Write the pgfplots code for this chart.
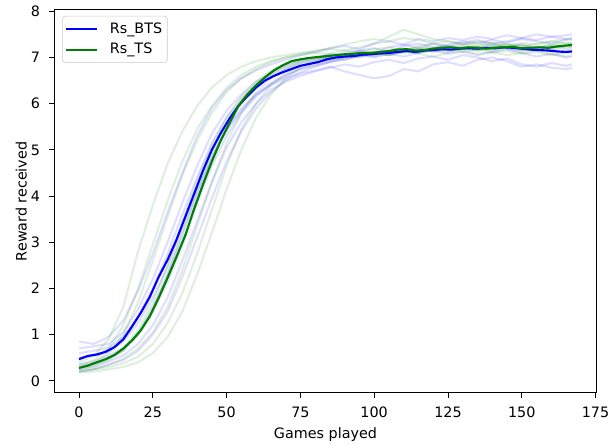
\documentclass[border=0pt]{standalone}
\usepackage{fontspec}
\setmainfont{DejaVu Sans}
\usepackage{pgfplots}
\usepackage{pgfplotstable}
\pgfplotsset{compat=1.18}
\definecolor{mblue}{rgb}{0,0,1}
\definecolor{mgreen}{rgb}{0,0.5,0}
\pgfplotstableread{
x b g
0 0.47 0.28
3 0.54 0.33
6 0.57 0.40
9 0.63 0.47
12 0.73 0.56
15 0.90 0.70
18 1.18 0.88
21 1.48 1.10
24 1.82 1.40
27 2.25 1.80
30 2.62 2.23
33 3.05 2.68
36 3.55 3.15
39 4.05 3.72
42 4.55 4.25
45 5.00 4.75
48 5.36 5.20
51 5.68 5.58
54 5.95 5.95
57 6.16 6.20
60 6.35 6.40
63 6.50 6.57
66 6.60 6.72
69 6.68 6.83
72 6.75 6.92
75 6.82 6.96
78 6.86 6.99
81 6.90 7.01
84 6.96 7.03
87 7.00 7.05
90 7.02 7.07
93 7.03 7.08
96 7.06 7.10
99 7.07 7.10
102 7.09 7.12
105 7.10 7.14
108 7.12 7.17
111 7.14 7.18
114 7.12 7.15
117 7.15 7.16
120 7.16 7.19
123 7.18 7.21
126 7.17 7.22
129 7.19 7.20
132 7.20 7.22
135 7.19 7.21
138 7.21 7.19
141 7.20 7.21
144 7.22 7.22
147 7.21 7.23
150 7.19 7.20
153 7.17 7.21
156 7.16 7.22
159 7.15 7.21
162 7.13 7.24
165 7.12 7.26
167 7.13 7.27
}\means
\pgfplotstableread{
x b1 b2 b3 b4 b5 b6 b7 b8
0 0.85 0.70 0.50 0.35 0.25 0.60 0.30 0.20
5 0.80 0.75 0.55 0.42 0.30 0.65 0.38 0.25
10 0.95 0.80 0.62 0.55 0.42 0.72 0.48 0.35
15 1.30 1.05 0.85 0.70 0.55 0.95 0.65 0.45
20 1.95 1.55 1.25 1.00 0.80 1.40 1.02 0.65
25 2.75 2.20 1.80 1.50 1.20 2.00 1.60 1.00
30 3.65 3.00 2.45 2.15 1.80 2.75 2.30 1.50
35 4.50 3.85 3.30 2.95 2.60 3.60 3.15 2.25
40 5.30 4.65 4.10 3.85 3.45 4.40 4.00 3.10
45 5.90 5.35 4.85 4.65 4.30 5.15 4.80 3.95
50 6.30 5.85 5.45 5.30 5.05 5.70 5.42 4.75
55 6.55 6.20 5.90 5.80 5.60 6.10 5.85 5.40
60 6.72 6.48 6.20 6.15 6.00 6.40 6.20 5.90
65 6.85 6.65 6.40 6.42 6.30 6.60 6.45 6.25
70 6.95 6.80 6.55 6.60 6.48 6.75 6.62 6.50
75 7.05 6.92 6.65 6.75 6.60 6.88 6.75 6.68
80 7.12 7.00 6.72 6.85 6.70 6.95 6.82 6.80
85 7.20 7.08 6.80 6.92 6.78 7.02 6.90 6.90
90 7.25 7.05 6.70 7.00 6.85 7.10 6.98 6.95
95 7.18 7.15 6.62 7.08 6.80 7.15 7.05 7.02
100 7.30 7.20 6.55 7.02 6.90 7.10 7.00 7.10
105 7.35 7.12 6.60 7.12 6.95 7.22 7.08 7.05
110 7.28 7.25 6.75 7.18 6.88 7.28 7.02 7.15
115 7.40 7.30 6.70 7.10 6.98 7.20 7.10 7.20
120 7.35 7.22 6.85 7.20 7.02 7.30 7.15 7.12
125 7.42 7.28 6.90 7.25 6.95 7.25 7.08 7.18
130 7.38 7.35 6.82 7.18 7.05 7.32 7.12 7.25
135 7.45 7.30 6.95 7.22 7.00 7.38 7.05 7.20
140 7.40 7.38 7.00 7.28 6.92 7.30 7.12 7.15
145 7.48 7.32 6.92 7.20 6.98 7.35 7.18 7.22
150 7.42 7.40 6.80 7.15 6.85 7.42 7.10 7.28
155 7.50 7.35 6.85 7.22 6.80 7.38 7.02 7.20
160 7.45 7.30 6.78 7.18 6.88 7.45 7.08 7.25
165 7.48 7.38 6.75 7.12 6.82 7.40 7.00 7.18
167 7.50 7.40 6.77 7.15 6.85 7.42 7.02 7.20
}\bruns
\pgfplotstableread{
x g1 g2 g3 g4 g5 g6 g7 g8
0 0.40 0.30 0.25 0.20 0.18 0.22 0.35 0.28
5 0.55 0.40 0.32 0.25 0.20 0.25 0.45 0.35
10 0.90 0.60 0.45 0.35 0.25 0.30 0.70 0.48
15 1.60 1.00 0.65 0.48 0.30 0.38 1.20 0.70
20 2.80 1.70 1.00 0.70 0.40 0.52 2.00 1.10
25 3.80 2.60 1.55 1.05 0.60 0.80 2.95 1.70
30 4.70 3.55 2.30 1.60 0.95 1.25 3.90 2.50
35 5.40 4.45 3.20 2.40 1.50 1.90 4.75 3.45
40 5.95 5.20 4.10 3.35 2.30 2.75 5.45 4.35
45 6.35 5.80 4.90 4.30 3.20 3.70 5.95 5.10
50 6.62 6.25 5.55 5.15 4.15 4.65 6.35 5.70
55 6.80 6.55 6.05 5.80 5.00 5.45 6.62 6.15
60 6.92 6.75 6.40 6.25 5.70 6.00 6.80 6.48
65 7.00 6.90 6.65 6.55 6.20 6.40 6.92 6.70
70 7.05 7.00 6.82 6.75 6.55 6.65 7.00 6.85
75 7.10 7.05 6.92 6.88 6.78 6.82 7.08 6.95
80 7.12 7.10 6.98 6.95 6.90 6.92 7.15 7.00
85 7.18 7.08 7.05 7.00 6.95 7.00 7.20 6.98
90 7.15 7.15 7.02 7.05 7.02 6.95 7.28 7.05
95 7.22 7.12 7.10 7.00 7.08 7.05 7.35 7.02
100 7.30 7.18 7.08 7.08 7.05 7.12 7.40 7.10
105 7.45 7.22 7.15 7.05 7.12 7.08 7.35 7.05
110 7.60 7.15 7.20 7.12 7.10 7.15 7.42 7.12
115 7.50 7.25 7.12 7.10 7.18 7.22 7.38 7.08
120 7.40 7.30 7.18 7.15 7.22 7.18 7.30 7.02
125 7.35 7.22 7.25 7.20 7.15 7.12 7.35 7.10
130 7.30 7.28 7.20 7.12 7.20 7.20 7.28 7.15
135 7.25 7.35 7.15 7.18 7.25 7.15 7.32 7.08
140 7.32 7.30 7.22 7.10 7.18 7.25 7.25 7.12
145 7.28 7.25 7.28 7.15 7.22 7.20 7.30 7.05
150 7.22 7.32 7.20 7.08 7.28 7.15 7.25 7.10
155 7.30 7.28 7.15 7.12 7.22 7.22 7.20 7.15
160 7.35 7.35 7.22 7.05 7.18 7.28 7.28 7.08
165 7.40 7.30 7.25 7.10 7.25 7.22 7.32 7.02
167 7.38 7.32 7.28 7.12 7.22 7.25 7.30 7.05
}\gruns
\begin{document}
\begin{tikzpicture}
\begin{axis}[
  width=378pt, height=267pt, scale only axis,
  xmin=-8.35, xmax=175.35, ymin=-0.26, ymax=8.03,
  xtick={0,25,...,175}, ytick={0,1,...,8},
  tick align=outside, tick pos=left,
  major tick length=3.5pt,
  every tick/.style={black, line width=0.6pt},
  axis line style={line width=0.6pt},
  /pgf/number format/assume math mode=true,
  tick label style={font=\fontsize{10}{12}\selectfont},
  xticklabel style={yshift=-3pt},
  yticklabel style={xshift=-3pt},
  label style={font=\fontsize{10}{12}\selectfont},
  xlabel={Games played}, ylabel={Reward received},
  xlabel style={yshift=0.5pt}, ylabel style={yshift=-4pt},
  legend style={at={(0,1)}, anchor=north west, xshift=5.5pt, yshift=-4.1pt,
    draw=black!20, fill=white, fill opacity=0.8, text opacity=1, draw opacity=1,
    rounded corners=2pt, font=\fontsize{10}{12}\selectfont,
    inner xsep=1.5pt, inner ysep=2.5pt, row sep=1.5pt, column sep=6pt},
  legend cell align=left,
  legend image code/.code={\draw[#1, line width=1.5pt] (0pt,0pt) -- (22pt,0pt);},
]
\foreach \c in {b1,b2,b3,b4,b5,b6,b7,b8} {
  \addplot[mblue, opacity=0.13, line width=1.4pt, forget plot] table[x=x, y=\c] {\bruns};
}
\foreach \c in {g1,g2,g3,g4,g5,g6,g7,g8} {
  \addplot[mgreen, opacity=0.13, line width=1.4pt, forget plot] table[x=x, y=\c] {\gruns};
}
\addplot[mblue, line width=1.5pt] table[x=x, y=b] {\means};
\addlegendentry{Rs\_BTS\hspace{4pt}}
\addplot[mgreen, line width=1.5pt] table[x=x, y=g] {\means};
\addlegendentry{Rs\_TS}
\end{axis}
\path ([shift={(-37.9pt,-33.1pt)}]current axis.south west) rectangle ([shift={(0pt,6.9pt)}]current axis.north east);
\end{tikzpicture}
\end{document}
